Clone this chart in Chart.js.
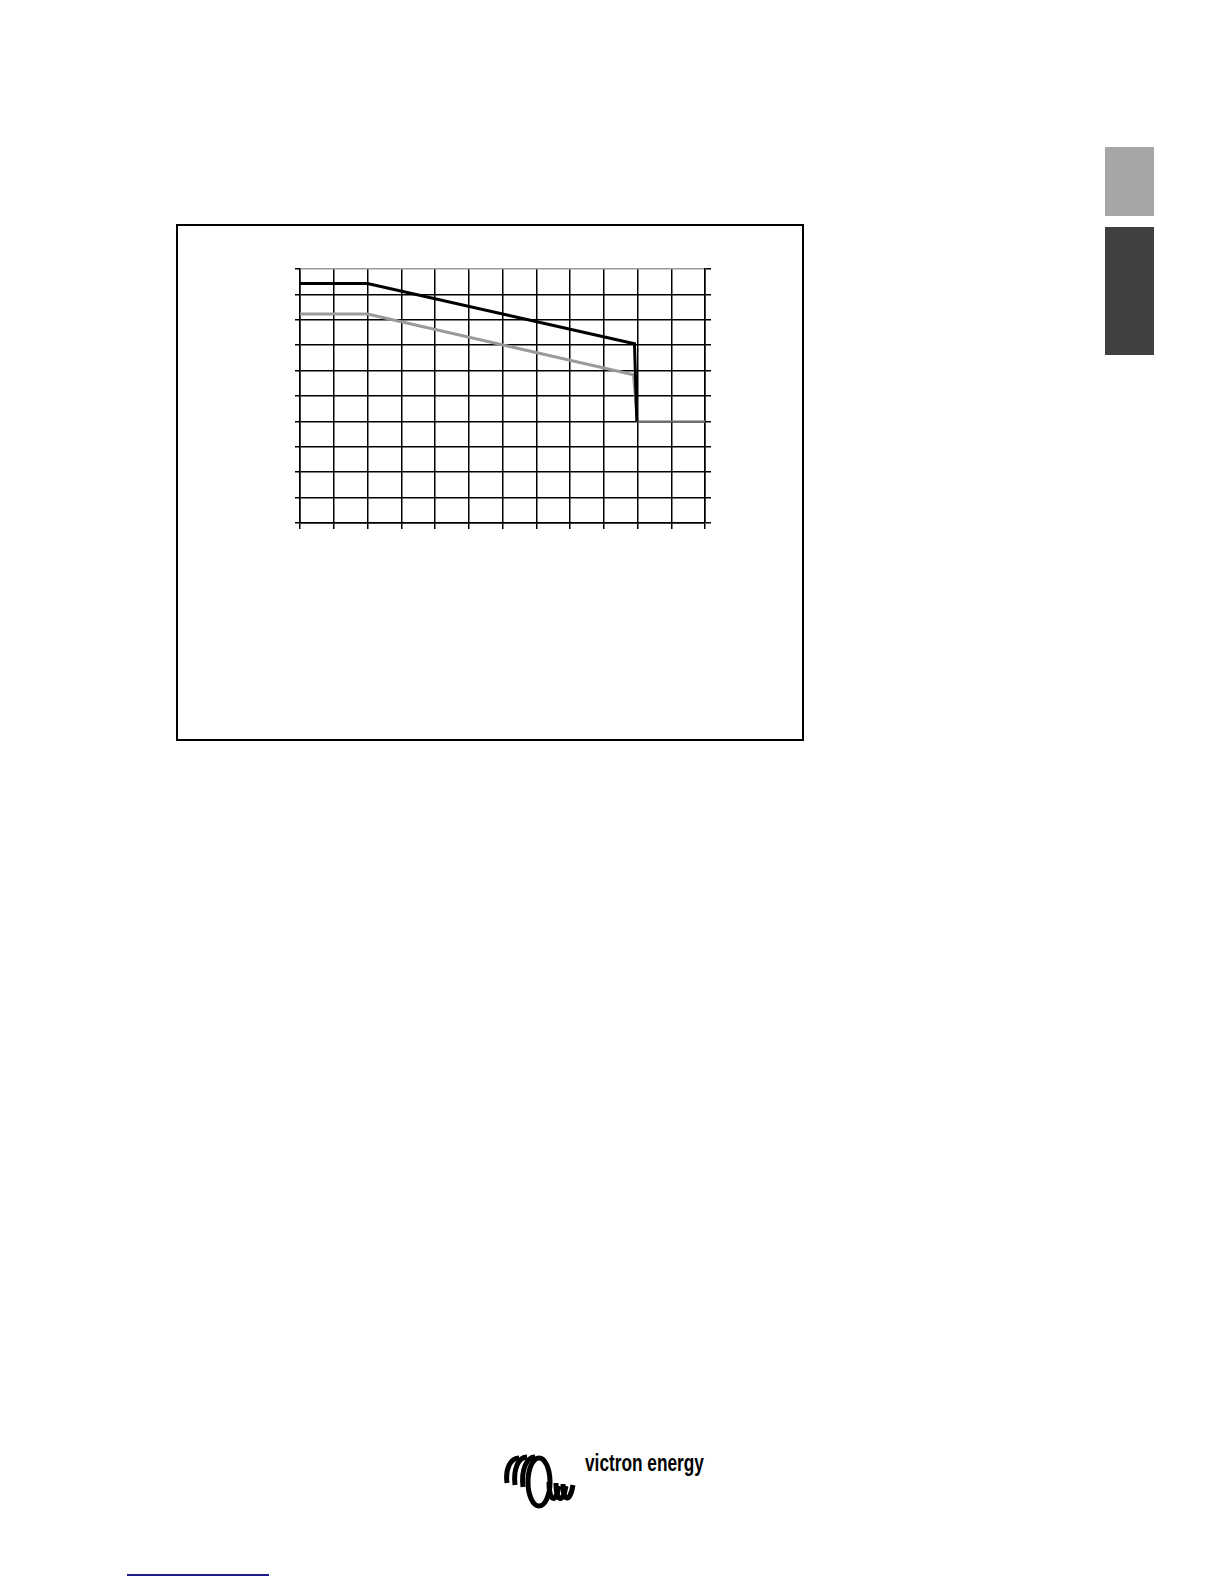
<!DOCTYPE html>
<html>
<head>
<meta charset="utf-8">
<script src="https://cdn.jsdelivr.net/npm/chart.js@4.4.1/dist/chart.umd.min.js"></script>
<style>
  html, body { margin: 0; padding: 0; background: #fff; }
  body { width: 1224px; height: 1584px; position: relative; overflow: hidden; }
  .frame { position: absolute; left: 176px; top: 224px; width: 628px; height: 517px; border: 2px solid #000; box-sizing: border-box; }
  .chartbox { position: absolute; left: 280px; top: 259px; width: 440px; height: 290px; }
  .tab1 { position: absolute; left: 1105px; top: 147px; width: 49px; height: 69px; background: #a6a6a6; }
  .tab2 { position: absolute; left: 1105px; top: 227px; width: 49px; height: 128px; background: #404040; }
  .brand { position: absolute; left: 585px; top: 1452px; font-family: "Liberation Sans", Arial, sans-serif; font-weight: bold; font-size: 23px; line-height: 23px; color: #000; transform: scaleX(0.75); transform-origin: 0 0; white-space: nowrap; }
  .blue { position: absolute; left: 127px; top: 1574px; width: 142px; height: 2px; background: #1c1c8a; }
  .logo { position: absolute; left: 500px; top: 1452px; }
</style>
</head>
<body>
<div class="tab1"></div>
<div class="tab2"></div>
<div class="frame"></div>
<div class="chartbox"><canvas id="c"></canvas></div>
<svg class="logo" width="82" height="60" viewBox="0 0 82 60">
  <g fill="none" stroke="#000" stroke-width="5" stroke-linecap="butt">
    <path d="M7,31 C5,16 11,6 19,6"/>
    <path d="M15,33 C13,16 19,5 27,5"/>
    <path d="M23,35 C21,17 27,5 35,5"/>
    <ellipse cx="39" cy="30" rx="11" ry="24"/>
    <path d="M49,30 C49,50 56,52 59,34"/>
    <path d="M56,31 C56,50 63,52 66,34"/>
    <path d="M63,32 C63,50 70,51 73,33"/>
  </g>
</svg>
<div class="brand">victron energy</div>
<div class="blue"></div>
<script>
// Data (grid units: x 0..12, y 0..10)
const blackX = [0, 2, 9.91, 9.98];
const blackY = [9.43, 9.43, 7.06, 4.0];
const grayX = [0, 2, 9.88, 10.0, 12];
const grayY = [8.23, 8.23, 5.84, 4.0, 4.0];
const xMin = 0, xMax = 12, yMin = 0, yMax = 10;

const toPts = (xs, ys) => xs.map((x, i) => ({ x: x, y: ys[i] }));

new Chart(document.getElementById('c'), {
  type: 'line',
  data: {
    datasets: [
      {
        data: toPts(blackX, blackY),
        borderColor: '#000',
        borderWidth: 3,
        pointRadius: 0,
        tension: 0,
        fill: false
      },
      {
        data: toPts(grayX, grayY),
        borderColor: '#9a9a9a',
        borderWidth: 3,
        pointRadius: 0,
        tension: 0,
        fill: false,
        segment: {
          borderColor: ctx => ctx.p0.parsed.x >= 9.99 ? '#6a6a6a' : undefined,
          borderWidth: ctx => ctx.p0.parsed.x >= 9.99 ? 2 : undefined
        }
      }
    ]
  },
  options: {
    responsive: true,
    maintainAspectRatio: false,
    animation: false,
    layout: { padding: { left: 15, right: 9, top: 10, bottom: 20 } },
    plugins: { legend: { display: false }, tooltip: { enabled: false } },
    scales: {
      x: {
        type: 'linear',
        min: xMin, max: xMax,
        ticks: { display: false, stepSize: 1 },
        grid: { color: '#000', tickColor: '#000', lineWidth: 1.5, tickLength: 6, drawTicks: true },
        border: { display: true, color: '#000', width: 1.5 },
        afterFit: s => { s.height = 6; }
      },
      y: {
        type: 'linear',
        min: yMin, max: yMax,
        ticks: { display: false, stepSize: 1 },
        grid: {
          color: ctx => (ctx.tick && ctx.tick.value === yMax) ? '#9a9a9a' : '#000',
          tickColor: '#000',
          lineWidth: 1.5, tickLength: 5, drawTicks: true
        },
        border: { display: true, color: '#000', width: 1.5 },
        afterFit: s => { s.width = 5; }
      },
      y2: {
        type: 'linear',
        position: 'right',
        min: yMin, max: yMax,
        ticks: { display: false, stepSize: 1 },
        grid: { drawOnChartArea: false, color: '#000', lineWidth: 1.5, tickLength: 6 },
        border: { display: true, color: '#000', width: 1.5 },
        afterFit: s => { s.width = 6; }
      }
    }
  }
});
</script>
</body>
</html>
